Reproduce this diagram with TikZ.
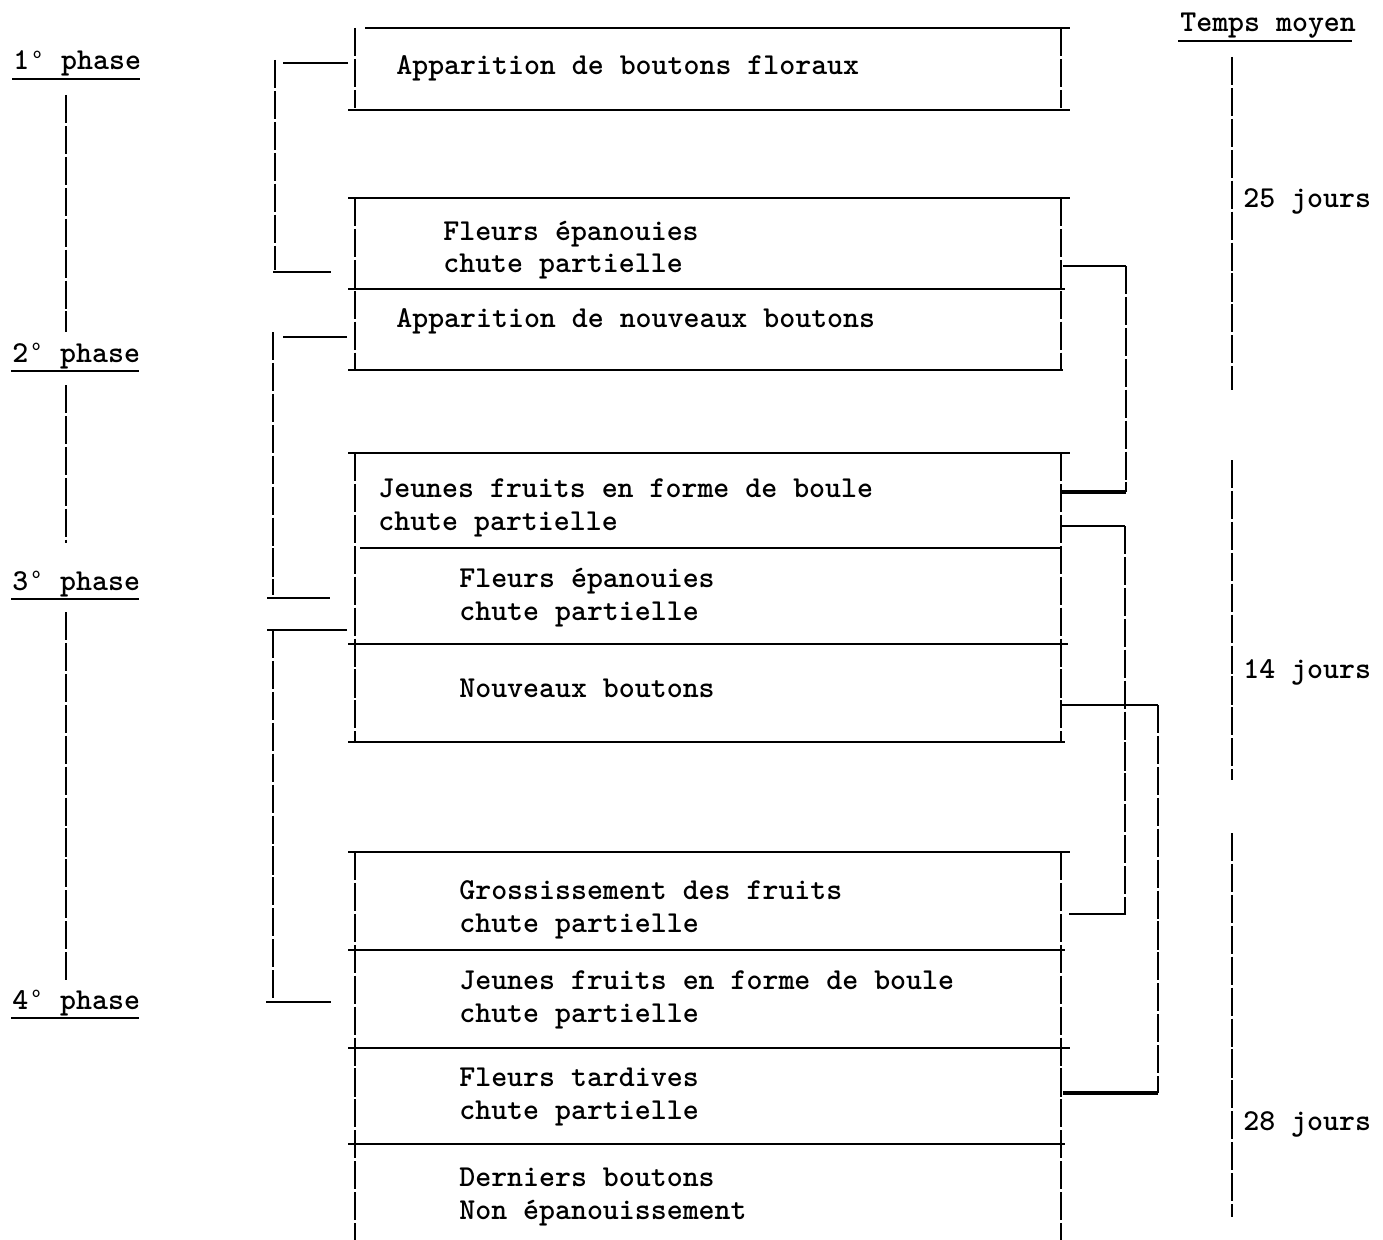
\documentclass[tikz,border=0pt]{standalone}
\usepackage{tikz}
\usetikzlibrary{calc}
\newcommand{\tw}{\fontsize{17.3}{18.5}\selectfont\ttfamily\bfseries}
\newcommand{\dg}{\makebox[0.525em][c]{\raisebox{6.4pt}{\fontsize{9.5}{9.5}\selectfont o}}}

\begin{document}
\begin{tikzpicture}[x=0.02cm,y=-0.02cm,
    txt/.style={anchor=base west,inner sep=0pt,align=left,font=\tw},
    hr/.style={line width=1.5pt},
    ul/.style={line width=1.2pt},
    vr/.style={line width=1.4pt,dash pattern=on 16pt off 1.6pt}]
    \useasboundingbox (0,0) rectangle (1383,1240);
    % stages (base = last line)
    \node[txt] (bf) at (396,75) {Apparition de boutons floraux};
    \node[txt] (fe1) at (443,273) {Fleurs épanouies\\chute partielle};
    \node[txt] (nb1) at (396,327) {Apparition de nouveaux boutons};
    \node[txt] (jf1) at (378,530) {Jeunes fruits en forme de boule\\chute partielle};
    \node[txt] (fe2) at (459,620) {Fleurs épanouies\\chute partielle};
    \node[txt] (nb2) at (459,697) {Nouveaux boutons};
    \node[txt] (gf) at (459,932) {Grossissement des fruits\\chute partielle};
    \node[txt] (jf2) at (459,1022) {Jeunes fruits en forme de boule\\chute partielle};
    \node[txt] (ft) at (459,1119) {Fleurs tardives\\chute partielle};
    \node[txt] (db) at (459,1219) {Derniers boutons\\Non épanouissement};
    % frames
    \foreach \y/\a/\b in {28/365/1070,110/348/1070,198/348/1070,289/348/1065,
      370/348/1063,453/348/1070,548/360/1060,644/348/1068,742/348/1065,
      852/348/1070,950/348/1065,1048/348/1070,1144/348/1065}
      \draw[hr] (\a,\y) -- (\b,\y);
    \foreach \t/\b in {28/108,198/370,453/742,852/1240}{
      \draw[vr] (355,\t) -- (355,\b);
      \draw[vr] (1061,\t) -- (1061,\b);}
    % phases
    \node[txt] (ph1) at (13,70) {1\dg{} phase};
    \node[txt] (ph2) at (12,362) {2\dg{} phase};
    \node[txt] (ph3) at (12,590) {3\dg{} phase};
    \node[txt] (ph4) at (12,1009) {4\dg{} phase};
    \foreach \p in {ph1,ph2,ph3,ph4}
      \draw[ul] ($(\p.base west)+(-1,9)$) -- ++(128,0);
    \draw[vr] ($(ph1.base west)+(53,25)$) -- ($(ph2.base west)+(54,-30)$);
    \draw[vr] ($(ph2.base west)+(54,23)$) -- ($(ph3.base west)+(54,-47)$);
    \draw[vr] ($(ph3.base west)+(54,22)$) -- ($(ph4.base west)+(54,-27)$);
    % left brackets
    \draw[hr] (348,63) -- (283,63);
    \draw[vr] (275,60) -- (275,270);
    \draw[hr] (273,272) -- (331,272);
    \draw[hr] (347,337) -- (283,337);
    \draw[vr] (273,332) -- (273,595);
    \draw[hr] (267,598) -- (330,598);
    \draw[hr] (347,630) -- (267,630);
    \draw[vr] (273,630) -- (273,998);
    \draw[hr] (266,1002) -- (331,1002);
    % right brackets
    \draw[hr] (1063,266) -- (1126,266);
    \draw[vr] (1126,266) -- (1126,492);
    \draw[hr,line width=2pt] (1126,492) -- (1062,492);
    \draw[hr] (1062,526) -- (1125,526);
    \draw[vr] (1125,526) -- (1125,914);
    \draw[hr] (1126,914) -- (1069,914);
    \draw[hr] (1062,705) -- (1158,705);
    \draw[vr] (1158,705) -- (1158,1093);
    \draw[hr,line width=2pt] (1158,1093) -- (1063,1093);
    % durations
    \node[txt] (tm) at (1180,32) {Temps moyen};
    \draw[ul] ($(tm.base west)+(-2,9)$) -- ++(174,0);
    \node[txt] (d1) at (1243,208) {25 jours};
    \node[txt] (d2) at (1243,678) {14 jours};
    \node[txt] (d3) at (1243,1130) {28 jours};
    \draw[vr] (1232,57) -- (1232,390);
    \draw[vr] (1232,460) -- (1232,780);
    \draw[vr] (1232,833) -- (1232,1217);
\end{tikzpicture}
\end{document}
